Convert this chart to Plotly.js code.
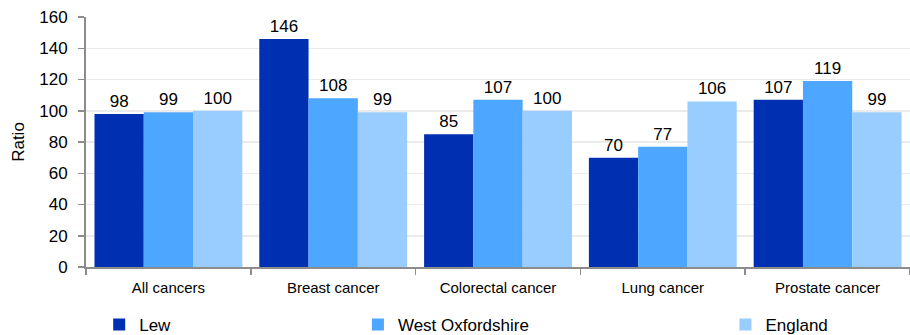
<!DOCTYPE html>
<html>
<head>
<meta charset="utf-8">
<script src="https://cdn.plot.ly/plotly-3.0.1.min.js"></script>
<style>html,body{margin:0;padding:0;background:#fff;}#chart{width:910px;height:335px;}</style>
</head>
<body>
<div id="chart"></div>
<script>
const categories = ["All cancers", "Breast cancer", "Colorectal cancer", "Lung cancer", "Prostate cancer"];
const lew = [98, 146, 85, 70, 107];
const westOxfordshire = [99, 108, 107, 77, 119];
const england = [100, 99, 100, 106, 99];
const seriesNames = ["Lew", "West Oxfordshire", "England"];
const colors = ["#0030b2", "#4da6ff", "#99ccff"];
const yTicks = [0, 20, 40, 60, 80, 100, 120, 140, 160];

const font = "Liberation Sans, Arial, sans-serif";
const values = [lew, westOxfordshire, england];
const legendIds = ["legend", "legend2", "legend3"];

const traces = values.map((v, i) => ({
  type: "bar",
  name: seriesNames[i],
  x: categories,
  y: v,
  text: v.map(String),
  textposition: "outside",
  textfont: {family: font, size: 17, color: "#000"},
  cliponaxis: false,
  marker: {color: colors[i], line: {width: 0}},
  legend: legendIds[i],
  hoverinfo: "none"
}));

const legendBase = {
  orientation: "h",
  xref: "paper", yref: "container",
  yanchor: "middle", xanchor: "left",
  y: 0.03,
  font: {family: font, size: 17, color: "#000"},
  bgcolor: "rgba(0,0,0,0)",
  borderwidth: 0
};

const layout = {
  width: 910, height: 335,
  margin: {l: 86, r: 0, t: 17, b: 68, autoexpand: false},
  paper_bgcolor: "#fff",
  plot_bgcolor: "#fff",
  barmode: "group",
  bargap: 0.103,
  bargroupgap: 0,
  font: {family: font, color: "#000"},
  xaxis: {
    type: "category",
    tickson: "boundaries",
    ticks: "outside",
    ticklen: 6,
    tickwidth: 1.5,
    tickcolor: "#8c8c8c",
    showline: true,
    linecolor: "#8c8c8c",
    linewidth: 2,
    showgrid: false,
    ticklabelstandoff: 6,
    tickfont: {family: font, size: 15, color: "#000"},
    fixedrange: true
  },
  yaxis: {
    range: [0, 160],
    tickvals: yTicks,
    ticktext: yTicks.map(String),
    ticks: "outside",
    ticklen: 6,
    tickwidth: 1.5,
    tickcolor: "#8c8c8c",
    showline: true,
    linecolor: "#8c8c8c",
    linewidth: 2,
    showgrid: true,
    gridcolor: "#ebebeb",
    gridwidth: 1.5,
    zeroline: false,
    ticklabelstandoff: 7,
    tickfont: {family: font, size: 17, color: "#000"},
    title: {text: "Ratio", font: {family: font, size: 17, color: "#000"}, standoff: 10},
    fixedrange: true
  },
  legend: Object.assign({}, legendBase, {x: 0.016}),
  legend2: Object.assign({}, legendBase, {x: 0.33}),
  legend3: Object.assign({}, legendBase, {x: 0.776}),
  showlegend: true
};

Plotly.newPlot("chart", traces, layout, {displayModeBar: false, staticPlot: true});
</script>
</body>
</html>
